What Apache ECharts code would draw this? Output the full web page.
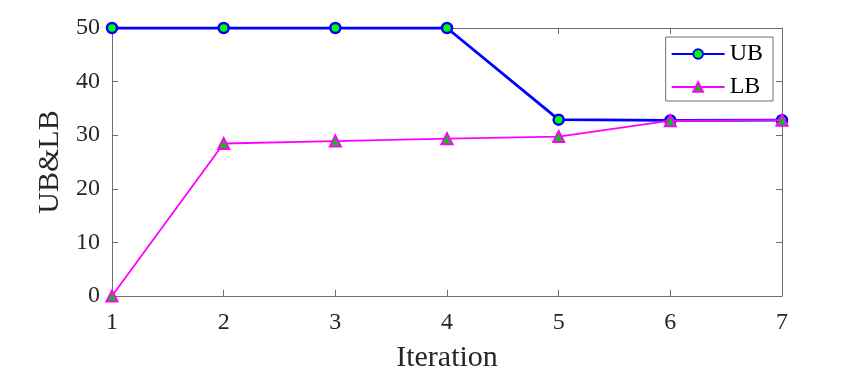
<!DOCTYPE html>
<html>
<head>
<meta charset="utf-8">
<script src="https://cdn.jsdelivr.net/npm/echarts@6/dist/echarts.min.js"></script>
<style>html,body{margin:0;padding:0;background:#fff}#c{width:864px;height:376px}</style>
</head>
<body>
<div id="c"></div>
<script>
var iterations = [1, 2, 3, 4, 5, 6, 7];
var ubValues = [50, 50, 50, 50, 32.9, 32.75, 32.8];
var lbValues = [0, 28.45, 28.9, 29.35, 29.75, 32.7, 32.8];
var yTicks = [0, 10, 20, 30, 40, 50];

function pairs(xs, ys){ return xs.map(function(x,i){return [x, ys[i]];}); }

var font = 'Liberation Serif, Times New Roman, serif';
var axisColor = '#6e6e6e';
var textColor = '#262626';

var chart = echarts.init(document.getElementById('c'));
chart.setOption({
  animation: false,
  backgroundColor: '#fff',
  grid: { left: 112, right: 82, top: 28, bottom: 80, show: false, containLabel: false, outerBoundsMode: 'none' },
  xAxis: [{
    type: 'value', min: 1, max: 7, interval: 1, position: 'bottom',
    name: 'Iteration', nameLocation: 'middle', nameGap: 47,
    nameTextStyle: { fontFamily: font, fontSize: 30, color: textColor },
    axisLine: { show: true, onZero: false, lineStyle: { color: axisColor, width: 1 } },
    axisTick: { show: true, inside: true, length: 6, lineStyle: { color: axisColor } },
    axisLabel: { fontFamily: font, fontSize: 24, color: textColor, margin: 15 },
    splitLine: { show: false }
  }, {
    type: 'value', min: 1, max: 7, interval: 1, position: 'top',
    axisLine: { show: true, onZero: false, lineStyle: { color: axisColor, width: 1 } },
    axisTick: { show: true, inside: true, length: 6, lineStyle: { color: axisColor } },
    axisLabel: { show: false }, splitLine: { show: false }
  }],
  yAxis: [{
    type: 'value', min: 0, max: 50, interval: 10, position: 'left',
    name: 'UB&LB', nameLocation: 'middle', nameGap: 42, nameRotate: 90,
    nameTextStyle: { fontFamily: font, fontSize: 30, color: textColor },
    axisLine: { show: true, onZero: false, lineStyle: { color: axisColor, width: 1 } },
    axisTick: { show: true, inside: true, length: 6, lineStyle: { color: axisColor } },
    axisLabel: { fontFamily: font, fontSize: 24, color: textColor, margin: 12,
      formatter: function(v){ return yTicks.indexOf(v) >= 0 ? String(v) : ''; } },
    splitLine: { show: false }
  }, {
    type: 'value', min: 0, max: 50, interval: 10, position: 'right',
    axisLine: { show: true, onZero: false, lineStyle: { color: axisColor, width: 1 } },
    axisTick: { show: true, inside: true, length: 6, lineStyle: { color: axisColor } },
    axisLabel: { show: false }, splitLine: { show: false }
  }],
  legend: {
    orient: 'vertical', right: 91, top: 37,
    backgroundColor: '#fff', borderColor: axisColor, borderWidth: 1, borderRadius: 0,
    padding: [5, 10, 2, 5], itemGap: 9, itemWidth: 53, itemHeight: 12,
    textStyle: { fontFamily: font, fontSize: 24, color: '#000', padding: [0,0,0,0] },
    data: ['UB', 'LB']
  },
  series: [{
    name: 'UB', type: 'line', data: pairs(iterations, ubValues),
    symbol: 'circle', symbolSize: 10,
    lineStyle: { color: '#0000ff', width: 2.8 },
    itemStyle: { color: '#00ff00', borderColor: '#0000ff', borderWidth: 2.5 },
    z: 2
  }, {
    name: 'LB', type: 'line', data: pairs(iterations, lbValues),
    symbol: 'triangle', symbolSize: 11,
    lineStyle: { color: '#ff00ff', width: 1.8 },
    itemStyle: { color: '#00cc00', borderColor: '#ff00ff', borderWidth: 2 },
    z: 3
  }]
});
</script>
</body>
</html>
